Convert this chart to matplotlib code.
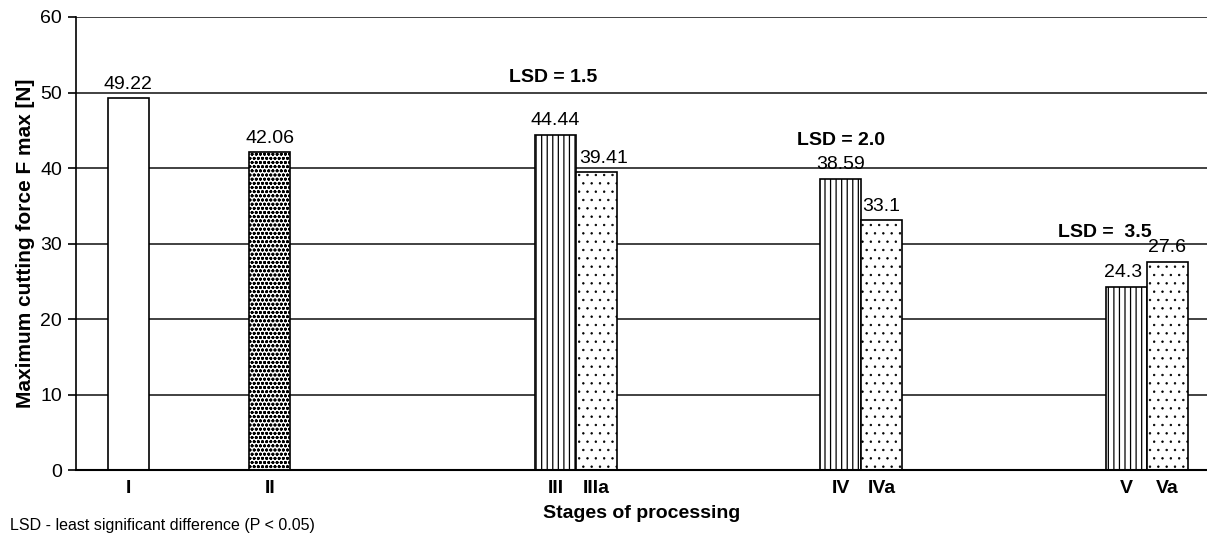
import matplotlib
matplotlib.use("Agg")
import matplotlib.pyplot as plt

# data
stages = ["I", "II", "III", "IIIa", "IV", "IVa", "V", "Va"]
fmax = [49.22, 42.06, 44.44, 39.41, 38.59, 33.1, 24.3, 27.6]
labels = ["49.22", "42.06", "44.44", "39.41", "38.59", "33.1", "24.3", "27.6"]
lsd_texts = ["LSD = 1.5", "LSD = 2.0", "LSD =  3.5"]

plt.rcParams['font.family'] = ['Liberation Sans', 'DejaVu Sans']

# layout: bar centres in bar-width units
xpos = [1.27, 4.73, 11.7, 12.7, 18.66, 19.66, 25.63, 26.63]
hatches = [None, 'oooo', '|||', '..', '|||', '..', '|||', '..']
hatch_lw = [0.9, 0.9, 0.9, 0.5, 0.9, 0.5, 0.9, 0.5]
label_dx = [0, 0, 0, 5, 0, 0, -2, 0]   # small nudges of the value labels (points)
lsd_pos = [(11.65, 52.0), (18.68, 43.7), (25.1, 31.5)]

fig = plt.figure(figsize=(12.07, 5.41), dpi=100)
ax = fig.add_axes([0.063, 0.131, 0.937, 0.8376])

ax.set_ylim(0, 60)
ax.set_xlim(0, 27.6)
ax.set_yticks(range(0, 61, 10))
for y in range(10, 61, 10):
    ax.axhline(y, color='#333333', lw=1.3, zorder=1)

for x, v, h, hl, lab, dx in zip(xpos, fmax, hatches, hatch_lw, labels, label_dx):
    with plt.rc_context({'hatch.linewidth': hl}):
        bars = ax.bar(x, v, width=1.0, color='white', edgecolor='black', lw=1.2,
                      hatch=h, zorder=2)
    for b in bars:
        if hasattr(b, 'set_hatch_linewidth'):
            b.set_hatch_linewidth(hl)
    ax.annotate(lab, (x, v), xytext=(dx, 4), textcoords='offset points',
                ha='center', va='bottom', fontsize=14)

for (x, y), t in zip(lsd_pos, lsd_texts):
    ax.text(x, y, t, ha='center', va='center', fontsize=14, fontweight='bold')

ax.set_xticks(xpos)
ax.set_xticklabels(stages, fontweight='bold', fontsize=14)
ax.tick_params(axis='x', length=0, pad=7)
ax.tick_params(axis='y', labelsize=14, length=6, width=1.2, pad=4)

ax.spines['top'].set_visible(False)
ax.spines['right'].set_visible(False)
ax.spines['left'].set_linewidth(1.2)
ax.spines['bottom'].set_linewidth(1.5)
ax.spines['bottom'].set_zorder(3)

ax.set_ylabel('Maximum cutting force F max [N]', fontsize=15, fontweight='bold',
              labelpad=4)
ax.set_xlabel('Stages of processing', fontsize=14, fontweight='bold', labelpad=6)
fig.text(0.008, 0.02, 'LSD - least significant difference (P < 0.05)', fontsize=11.5)

fig.savefig('out.png', dpi=100)
